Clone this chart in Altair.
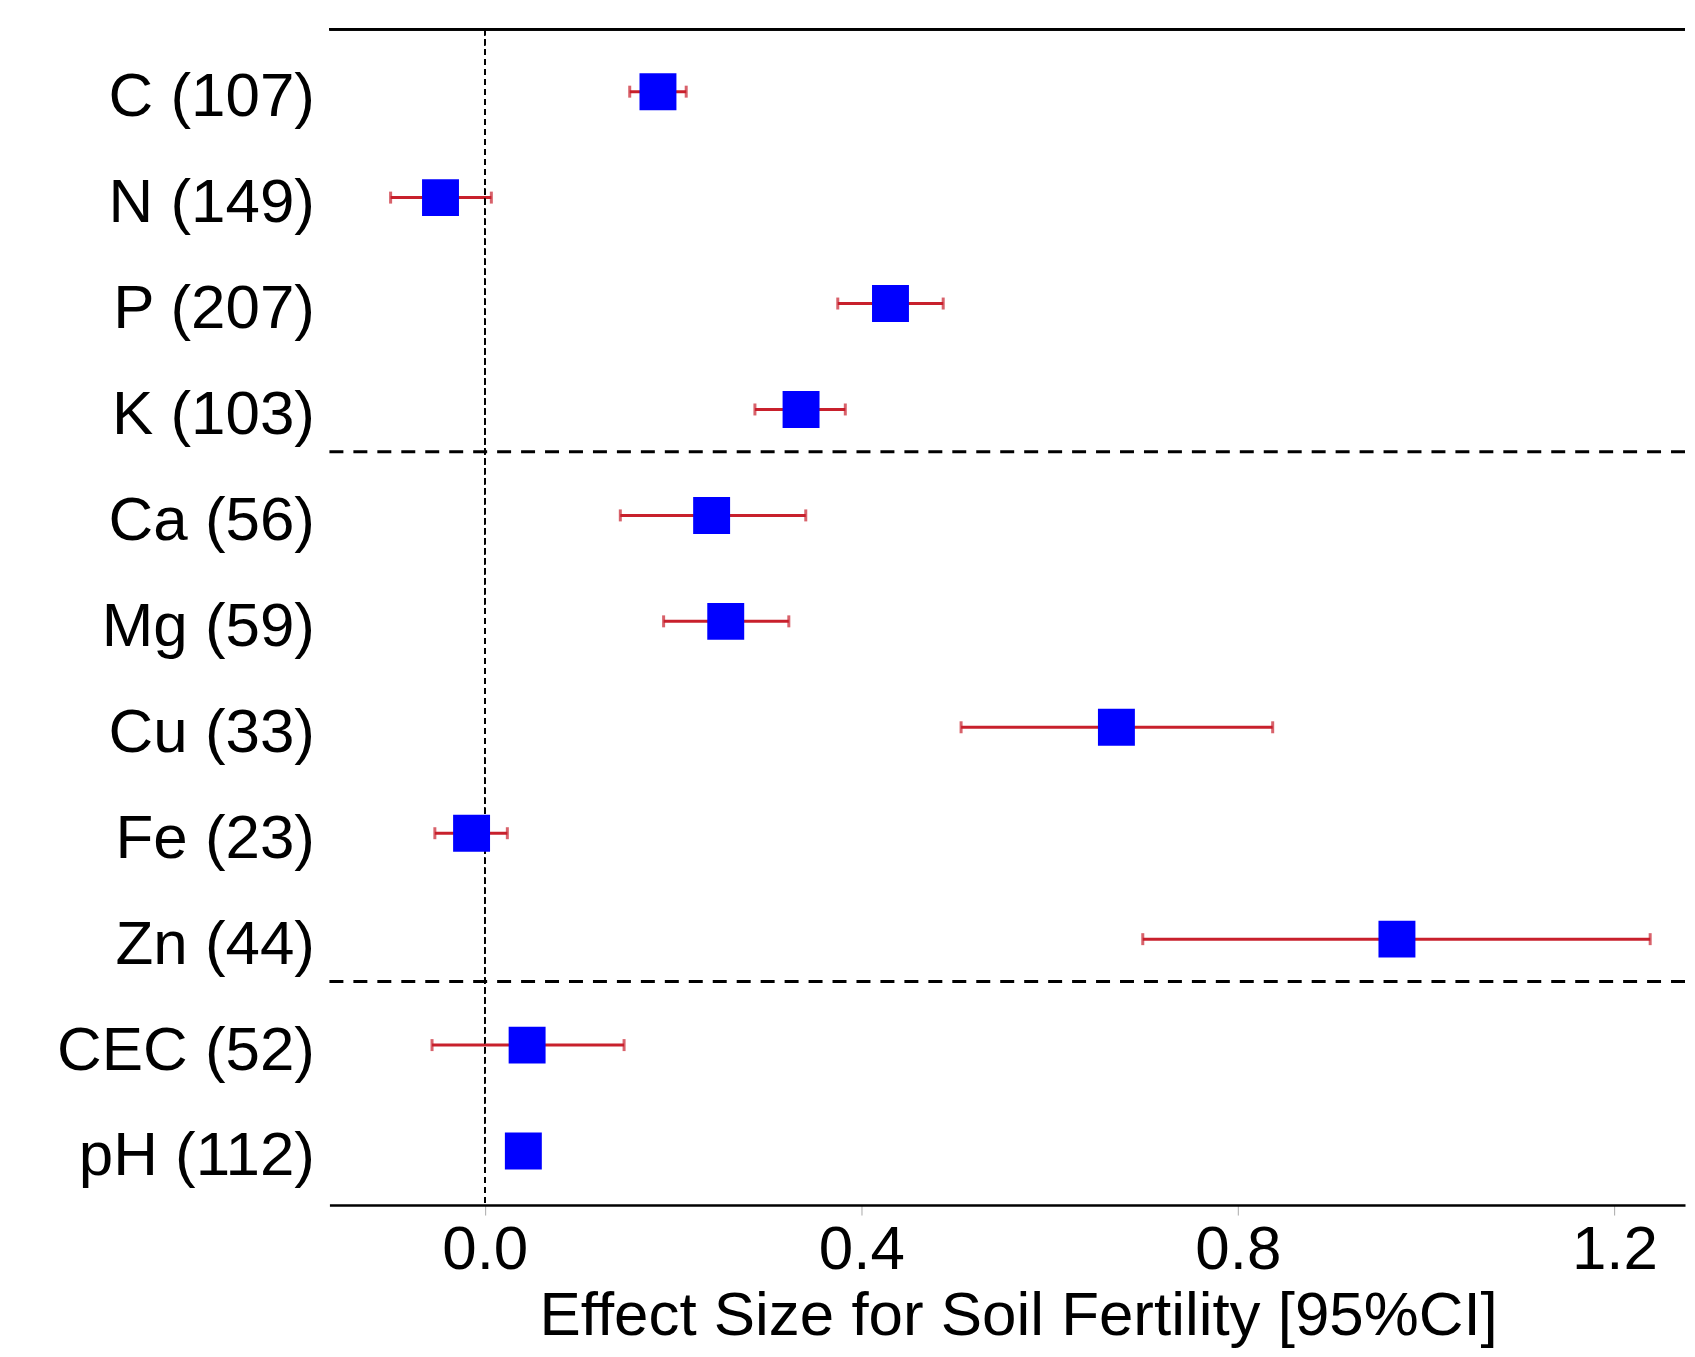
import altair as alt
import pandas as pd

labels = ["C (107)", "N (149)", "P (207)", "K (103)", "Ca (56)", "Mg (59)",
          "Cu (33)", "Fe (23)", "Zn (44)", "CEC (52)", "pH (112)"]
effect = [0.184, -0.047, 0.431, 0.336, 0.241, 0.256, 0.671, -0.014, 0.969, 0.045, 0.041]
ci_low = [0.154, -0.100, 0.375, 0.287, 0.144, 0.190, 0.506, -0.053, 0.699, -0.056, 0.030]
ci_high = [0.214, 0.007, 0.487, 0.383, 0.341, 0.323, 0.837, 0.024, 1.238, 0.148, 0.052]
group_breaks = [4.4, 9.4]
x_ticks = [0.0, 0.4, 0.8, 1.2]

df = pd.DataFrame({
    "pos": list(range(1, len(labels) + 1)),
    "label": labels,
    "effect": effect,
    "lo": ci_low,
    "hi": ci_high,
})
breaks_df = pd.DataFrame({"b": group_breaks})

FONT = "Liberation Sans"
label_js = "[" + ",".join("'" + l + "'" for l in labels) + "]"

xscale = alt.Scale(domain=[-0.165, 1.275], nice=False, zero=False)
yscale = alt.Scale(domain=[0.41, 11.51], reverse=True, nice=False, zero=False)

xaxis = alt.Axis(
    values=x_ticks, format=".1f", grid=False,
    domain=True, domainColor="black", domainWidth=2.5,
    ticks=True, tickColor="#aaaaaa", tickSize=10, tickWidth=1,
    labelPadding=5, labelFontSize=62, labelFont=FONT, labelColor="black",
    title="Effect Size for Soil Fertility [95%CI]",
    titleFont=FONT, titleFontSize=62, titleFontWeight="normal", titleColor="black",
    titleX=690, titleY=130, titleBaseline="alphabetic", titleAlign="center",
)
yaxis = alt.Axis(
    values=list(range(1, len(labels) + 1)),
    labelExpr=label_js + "[datum.value-1]",
    grid=False, domain=False, ticks=False, labelLimit=0,
    labelPadding=15, labelFontSize=62, labelFont=FONT, labelColor="black",
    labelBaseline="middle", labelOffset=5, labelAlign="right",
    title=None,
)

base = alt.Chart(df)

zero_line = alt.Chart(df).mark_rule(color="black", strokeWidth=1.2, strokeDash=[6, 4]).encode(
    x=alt.datum(0, scale=xscale)
)
top_line = alt.Chart(df).mark_rule(color="black", strokeWidth=2).encode(
    y=alt.value(0)
)
sep_lines = alt.Chart(breaks_df).mark_rule(color="black", strokeWidth=3, strokeDash=[14, 10]).encode(
    y=alt.Y("b:Q", scale=yscale)
)
ci = base.mark_rule(color="#c8202c", strokeWidth=3).encode(
    x=alt.X("lo:Q", scale=xscale, axis=xaxis),
    x2="hi:Q",
    y=alt.Y("pos:Q", scale=yscale, axis=yaxis),
)
cap_lo = base.mark_tick(color="#c8202c", orient="vertical", size=12, thickness=3).encode(
    x=alt.X("lo:Q", scale=xscale), y=alt.Y("pos:Q", scale=yscale)
)
cap_hi = base.mark_tick(color="#c8202c", orient="vertical", size=12, thickness=3).encode(
    x=alt.X("hi:Q", scale=xscale), y=alt.Y("pos:Q", scale=yscale)
)
squares = base.mark_square(color="#0000ff", size=1369, opacity=1).encode(
    x=alt.X("effect:Q", scale=xscale), y=alt.Y("pos:Q", scale=yscale)
)

chart = alt.layer(ci, zero_line, top_line, sep_lines, cap_lo, cap_hi, squares).properties(
    width=1358, height=1178,
    padding={"left": 48, "top": 19, "right": 0, "bottom": 0},
    background="white",
).configure_view(stroke=None)

chart.save("out.html", embed_options={"renderer": "svg", "actions": False})
